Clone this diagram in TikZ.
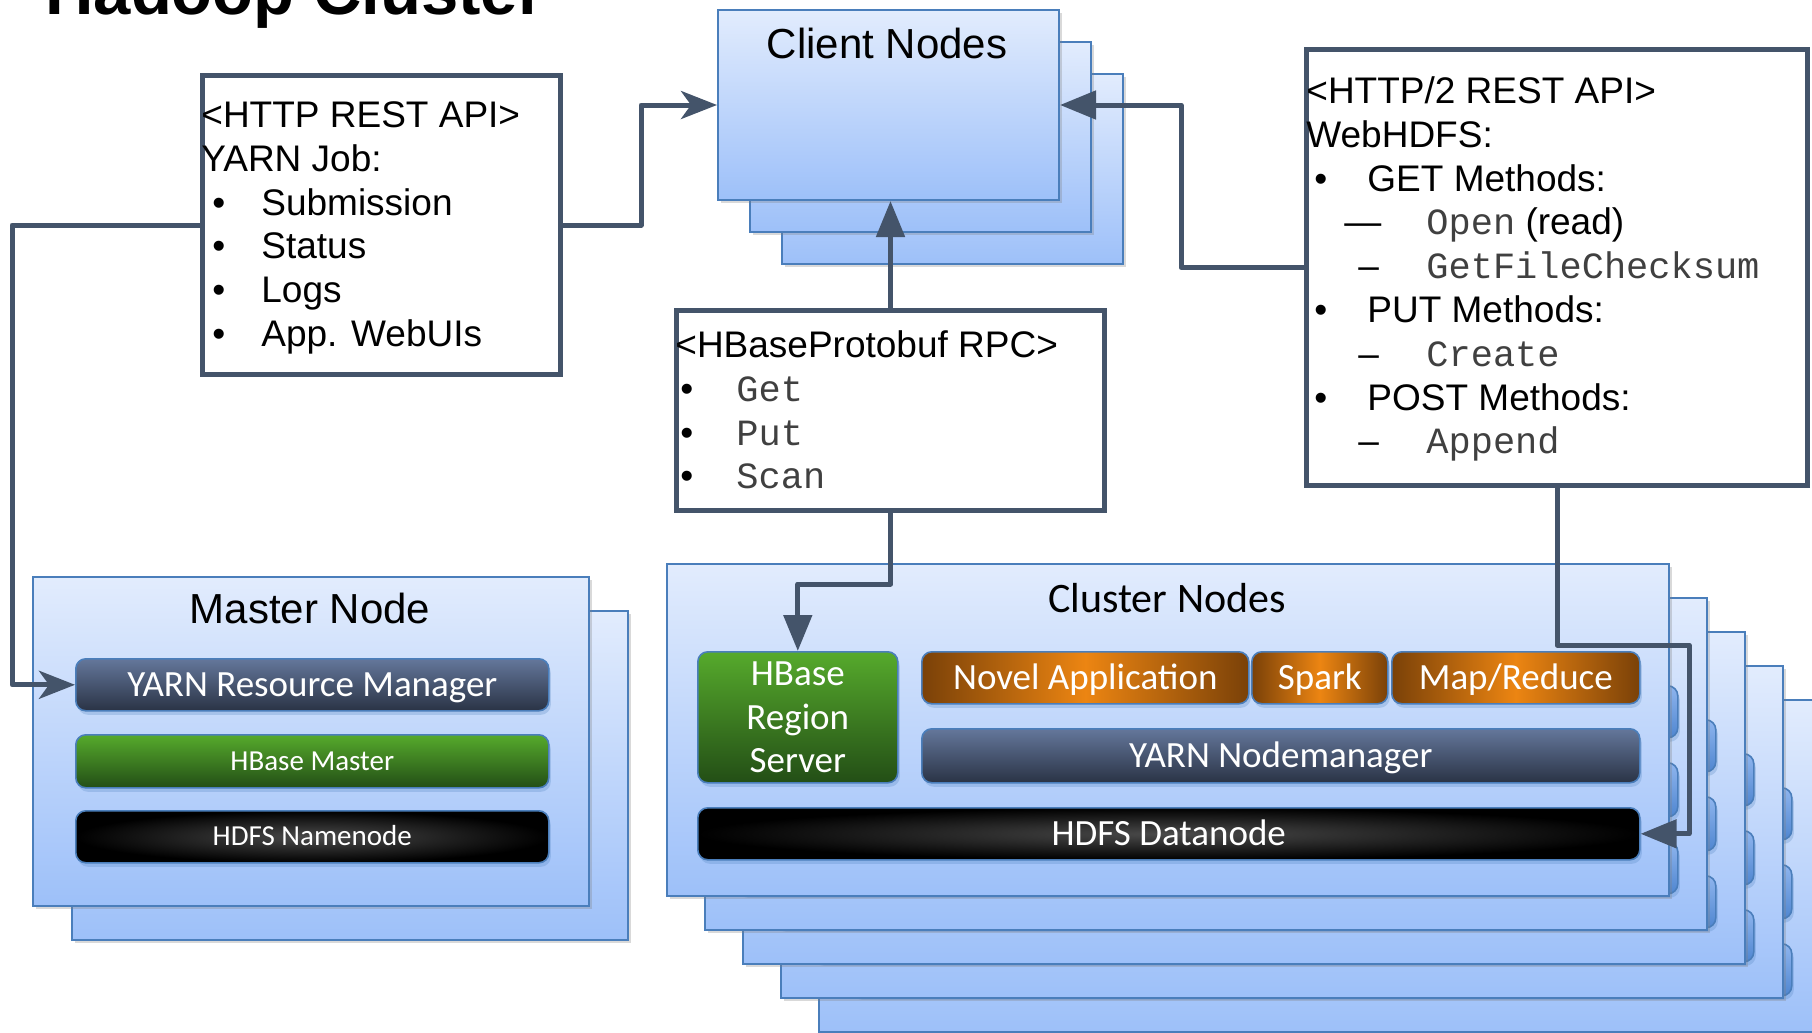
\documentclass[tikz,border=0pt]{standalone}
\usepackage{fontspec}
\setmainfont{Liberation Sans}
\setmonofont{Liberation Mono}
\newfontfamily\barfont{Carlito}
\usepackage{tikz}
\usetikzlibrary{arrows.meta,positioning,shadows}

\definecolor{wire}{HTML}{44546A}
\definecolor{rim}{HTML}{4A7EBB}
\definecolor{skytop}{HTML}{E2ECFD}
\definecolor{skybot}{HTML}{9DC0F9}
\definecolor{slatetop}{HTML}{64779B}
\definecolor{slatebot}{HTML}{2A3345}
\definecolor{leaftop}{HTML}{56AA2C}
\definecolor{leafbot}{HTML}{234E16}
\definecolor{rust}{HTML}{7A4108}
\definecolor{amber}{HTML}{EC8512}
\definecolor{coal}{HTML}{4A4A4A}
\definecolor{ghosttop}{HTML}{8FB5EE}
\definecolor{ghostbot}{HTML}{4F86D0}

\newcommand{\bul}[2]{\hspace*{#1}\makebox[#2][l]{\textbullet}}
\newcommand{\dsh}[3]{\hspace*{#1}\makebox[#2][l]{#3}}
\newcommand{\apicode}[1]{{\ttfamily\color{black!75}#1}}

\begin{document}
\begin{tikzpicture}[x=0.5pt,y=-0.5pt,
    panel/.style={draw=rim,line width=1pt,top color=skytop,bottom color=skybot,
                  anchor=north west,inner sep=0pt,
                  drop shadow={shadow xshift=1.5pt,shadow yshift=-1.5pt,opacity=.3}},
    bar/.style={draw=rim,line width=.8pt,rounded corners=5pt,anchor=north west,
                inner sep=0pt,text=white,font=\barfont\fontsize{18.5}{21.75}\selectfont,
                drop shadow={shadow xshift=1pt,shadow yshift=-2pt,opacity=.25,fill=rim}},
    row/.style={text height=11.7pt,text depth=0pt},
    yarnbar/.style={bar,row,top color=slatetop,bottom color=slatebot},
    greenbar/.style={bar,top color=leaftop,bottom color=leafbot},
    blackbar/.style={bar,row,inner color=coal,outer color=black},
    orangebar/.style={bar,row,left color=rust,right color=rust,middle color=amber},
    ghostbar/.style={bar,top color=ghosttop,bottom color=ghostbot},
    apibox/.style={draw=wire,line width=2.5pt,fill=white,anchor=north west,inner sep=0pt},
    apitext/.style={anchor=north west,inner sep=0pt,align=left,
                    font=\fontsize{18.5}{21.9}\selectfont},
    link/.style={draw=wire,line width=2.5pt,line join=round},
    notch/.style={-{Stealth[length=18pt,width=14pt,inset=5pt]}},
    tri/.style={-{Triangle[length=18pt,width=14pt]}}]

  \useasboundingbox (0,0) rectangle (1812,1033);

  % title, cut by the top edge
  \node[anchor=base west,inner sep=0pt,font=\bfseries\fontsize{33.5}{40}\selectfont] (title) at (45,14) {Hadoop Cluster};

  % client nodes
  \foreach \k in {2,1}
    \node[panel,minimum width=170.5pt,minimum height=95pt] (client\k) at ({717+32*\k},{9+32*\k}) {};
  \node[panel,minimum width=170.5pt,minimum height=95pt] (client) at (717,9) {};
  \node[anchor=base,font=\fontsize{21}{25}\selectfont] (clientlbl) at (887,58) {Client Nodes};

  % master node
  \begin{scope}[shift={(39,34)}]
    \node[panel,minimum width=278pt,minimum height=164.5pt] (master1) at (32,576) {};
    \node[ghostbar,minimum width=236.5pt,minimum height=26pt] (yarnrm1) at (75,658) {};
    \node[ghostbar,minimum width=236.5pt,minimum height=26.5pt] (hbmaster1) at (75,734) {};
    \node[ghostbar,minimum width=236.5pt,minimum height=26pt] (namenode1) at (75,810) {};
  \end{scope}
  \node[panel,minimum width=278pt,minimum height=164.5pt] (master) at (32,576) {};
  \node[anchor=base,font=\fontsize{21}{25}\selectfont] (masterlbl) at (310,623) {Master Node};
  \node[yarnbar,minimum width=236.5pt,minimum height=26pt] (yarnrm) at (75,658) {YARN Resource Manager};
  \node[greenbar,row,minimum width=236.5pt,minimum height=26.5pt,
        font=\barfont\fontsize{14.5}{17}\selectfont,text height=9.1pt] (hbmaster) at (75,734) {HBase Master};
  \node[blackbar,minimum width=236.5pt,minimum height=26pt,
        font=\barfont\fontsize{14.5}{17}\selectfont,text height=9.1pt] (namenode) at (75,810) {HDFS Namenode};

  % cluster nodes
  \foreach \k in {4,3,2,1}{
    \begin{scope}[shift={(38*\k,34*\k)}]
      \node[panel,minimum width=501pt,minimum height=166pt] (cluster\k) at (666,563) {};
      \node[ghostbar,minimum width=124pt,minimum height=26pt] (mapred\k) at (1391,651) {};
      \node[ghostbar,minimum width=359pt,minimum height=27pt] (nodemgr\k) at (921,728) {};
      \node[ghostbar,minimum width=471pt,minimum height=26pt] (datanode\k) at (697,807) {};
    \end{scope}
  }
  \node[panel,minimum width=501pt,minimum height=166pt] (cluster) at (666,563) {};
  \node[anchor=base,font=\barfont\fontsize{21}{25}\selectfont] (clusterlbl) at (1167,612) {Cluster Nodes};
  \node[greenbar,align=center,minimum width=100pt,minimum height=65.5pt] (hbrs) at (697,651) {HBase\\Region\\Server};
  \node[orangebar,minimum width=163.5pt,minimum height=26pt] (novel) at (921,651) {Novel Application};
  \node[orangebar,minimum width=68pt,minimum height=26pt] (spark) at (1251,651) {Spark};
  \node[orangebar,minimum width=124pt,minimum height=26pt] (mapred) at (1391,651) {Map/Reduce};
  \node[yarnbar,minimum width=359pt,minimum height=27pt] (nodemgr) at (921,728) {YARN Nodemanager};
  \node[blackbar,minimum width=471pt,minimum height=26pt] (datanode) at (697,807) {HDFS Datanode};

  % protocol boxes
  \node[apibox,minimum width=179pt,minimum height=149.5pt] (httpapi) at (200,73) {};
  \node[apitext] (httptxt) at (201,98) {\rule{0pt}{14.5pt}<HTTP REST API>\\
    YARN Job:\\
    \bul{5.5pt}{24.5pt}Submission\\
    \bul{5.5pt}{24.5pt}Status\\
    \bul{5.5pt}{24.5pt}Logs\\
    \bul{5.5pt}{24.5pt}App. WebUIs};

  \node[apibox,minimum width=214pt,minimum height=100pt] (hbrpc) at (674,308) {};
  \node[apitext] (hbrpctxt) at (675,328) {\rule{0pt}{14.5pt}<HBaseProtobuf RPC>\\
    \bul{2.5pt}{28pt}\apicode{Get}\\
    \bul{2.5pt}{28pt}\apicode{Put}\\
    \bul{2.5pt}{28pt}\apicode{Scan}};

  \node[apibox,minimum width=250.5pt,minimum height=218pt] (webhdfs) at (1304,47) {};
  \node[apitext] (webhdfstxt) at (1306,74) {\rule{0pt}{14.5pt}<HTTP/2 REST API>\\
    WebHDFS:\\
    \bul{4pt}{26.5pt}GET Methods:\\
    \dsh{19pt}{41pt}{—}\apicode{Open} (read)\\
    \dsh{26pt}{34pt}{–}\apicode{GetFileChecksum}\\
    \bul{4pt}{26.5pt}PUT Methods:\\
    \dsh{26pt}{34pt}{–}\apicode{Create}\\
    \bul{4pt}{26.5pt}POST Methods:\\
    \dsh{26pt}{34pt}{–}\apicode{Append}};

  % connectors
  \coordinate (rbend) at (1689,645);
  \draw[link,notch] (httpapi.east) -- ++(78,0) |- (client.west);
  \draw[link,notch] (httpapi.west) -- ++(-188,0) |- (yarnrm.west);
  \draw[link,tri] (hbrpc.north) -- (hbrpc.north |- client.south);
  \draw[link,tri] (hbrpc.south) -- ++(0,71) -| (hbrs.north);
  \draw[link,tri] (webhdfs.west) -- ++(-123,0) |- (client.east);
  \draw[link,tri] (webhdfs.south) |- (rbend) |- (datanode.east);
\end{tikzpicture}
\end{document}
